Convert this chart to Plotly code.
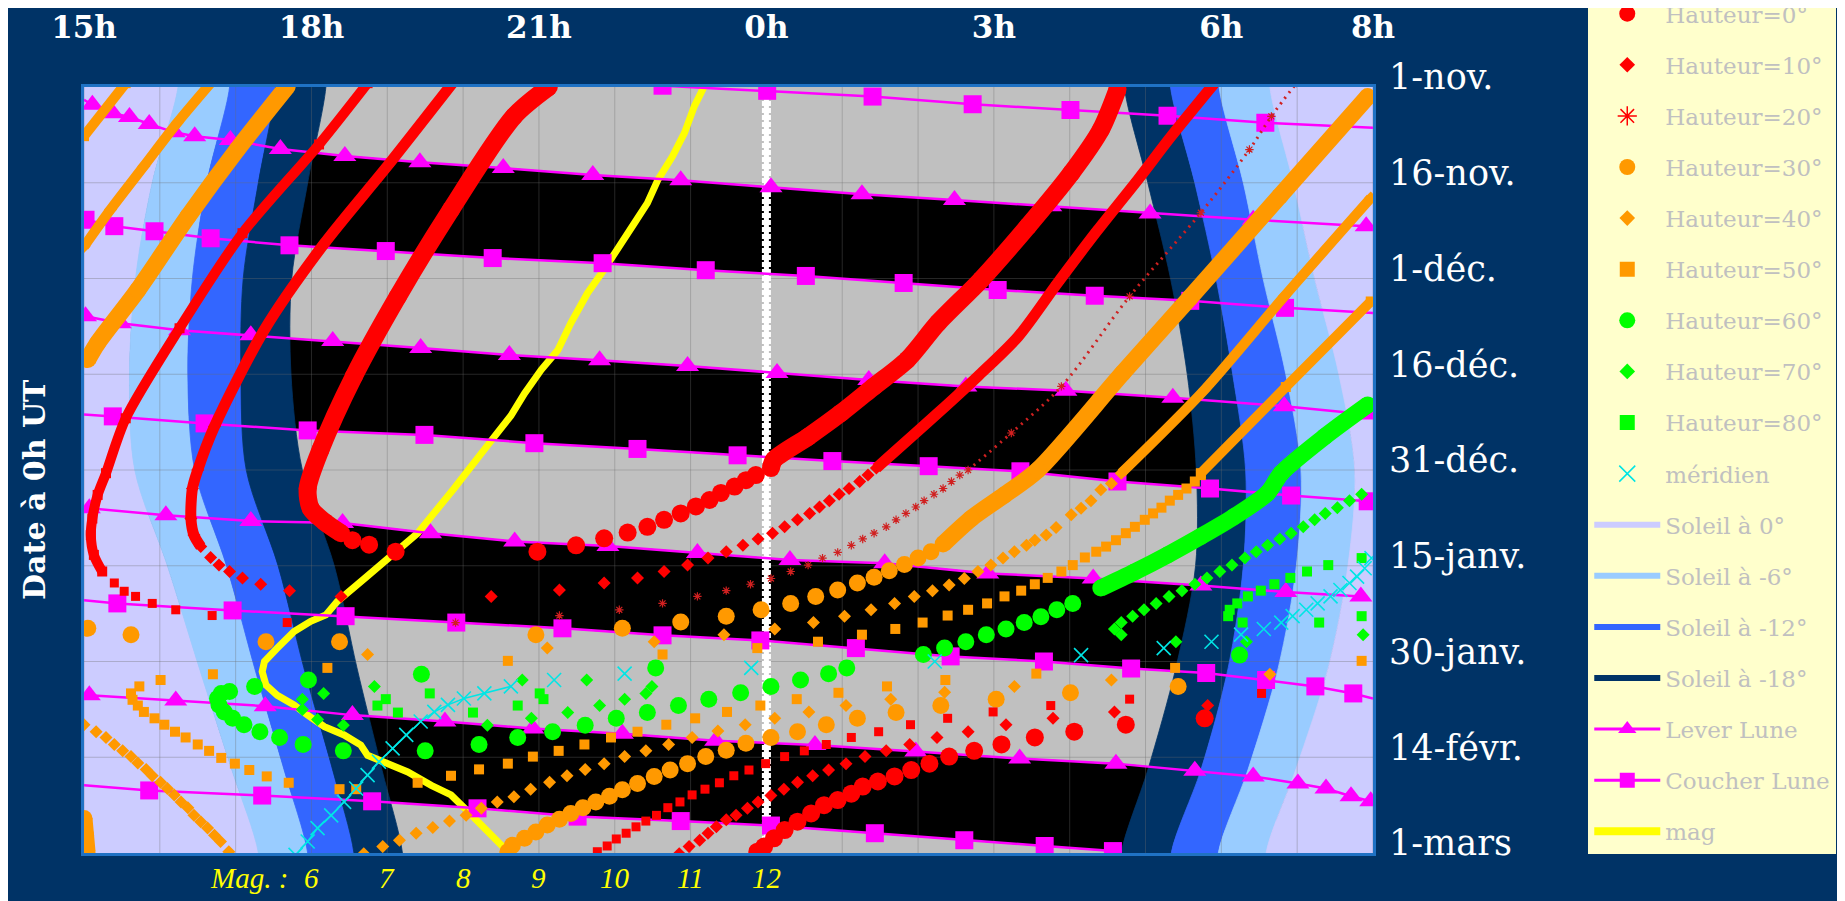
import plotly.graph_objects as go

# ---------------- axes / labels ----------------
HOUR_TICKS = [15, 18, 21, 24, 27, 30, 32]
HOUR_LABELS = ["15h", "18h", "21h", "0h", "3h", "6h", "8h"]
DATE_TICKS = [0, 15, 30, 45, 60, 75, 90, 105, 120]
DATE_LABELS = ["1-nov.", "16-nov.", "1-déc.", "16-déc.", "31-déc.",
               "15-janv.", "30-janv.", "14-févr.", "1-mars"]
MAG_TICKS = [6, 7, 8, 9, 10, 11, 12]
MAG_HOUR_OFFSET = 12          # magnitude m is drawn at hour 12 + m
MIDNIGHT = 24
X_RANGE = [15, 32]
Y_RANGE = [120, 0]
FILL_LEFT, FILL_RIGHT = 14.0, 33.0
FILL_TOP, FILL_BOTTOM = -6, 126

# ---------------- sun (hour at which the Sun is at 0, -6, -12, -18 deg) ----
SUN_DAYS = [0, 15, 30, 45, 60, 75, 91, 107, 120]
SUNSET_0 = [16.24, 15.90, 15.68, 15.60, 15.67, 16.10, 16.52, 16.95, 17.30]
SUNSET_6 = [16.92, 16.62, 16.43, 16.37, 16.46, 16.88, 17.25, 17.64, 17.95]
SUNSET_12 = [17.53, 17.30, 17.10, 17.07, 17.14, 17.56, 17.90, 18.28, 18.56]
SUNSET_18 = [18.19, 17.95, 17.74, 17.73, 17.88, 18.30, 18.60, 18.93, 19.20]
SUNRISE_18 = [28.72, 29.03, 29.33, 29.55, 29.67, 29.66, 29.40, 29.03, 28.68]
SUNRISE_12 = [29.33, 29.65, 29.93, 30.15, 30.32, 30.29, 30.09, 29.73, 29.34]
SUNRISE_6 = [29.97, 30.29, 30.55, 30.85, 31.05, 30.99, 30.75, 30.35, 29.96]
SUNRISE_0 = [30.64, 30.95, 31.23, 31.55, 31.76, 31.67, 31.41, 30.98, 30.59]

# ---------------- moon rise (Lever) / set (Coucher) ----------------
LEVER_1_H = [15.11, 15.38, 15.60, 15.86, 16.19, 16.46, 16.93, 17.59, 18.44, 19.43,
             20.53, 21.71, 22.87, 24.06, 25.26, 26.48, 27.75, 29.06, 30.42, 31.91]
LEVER_1_D = [2.8, 4.1, 4.7, 5.8, 7.1, 7.7, 8.3, 9.7, 10.8, 11.8,
             12.7, 13.8, 14.6, 15.7, 16.8, 17.7, 18.7, 19.8, 20.8, 21.8]
LEVER_2_H = [15.02, 15.48, 16.26, 17.20, 18.28, 19.44, 20.61, 21.80, 22.96, 24.14,
             25.35, 26.63, 27.95, 29.36, 30.83, 31.94]
LEVER_2_D = [35.9, 37.0, 38.1, 38.9, 39.8, 40.9, 42.0, 42.8, 43.7, 44.8,
             45.9, 46.9, 47.6, 48.7, 50.0, 51.3]
LEVER_3_H = [15.07, 16.08, 17.20, 18.41, 19.57, 20.68, 21.91, 23.09, 24.31, 25.56,
             26.92, 28.31, 29.73, 30.85, 31.84]
LEVER_3_D = [66.0, 67.1, 68.0, 68.3, 69.9, 71.2, 71.9, 73.0, 74.1, 74.6,
             76.2, 77.0, 78.1, 79.1, 79.8]
LEVER_4_H = [15.07, 16.21, 17.39, 18.54, 19.76, 20.92, 22.10, 23.33, 24.64, 25.97,
             27.34, 28.61, 29.65, 30.42, 31.01, 31.38, 31.71, 31.97]
LEVER_4_D = [95.3, 96.1, 97.0, 98.4, 99.4, 100.5, 101.3, 102.4, 103.1, 104.1,
             105.2, 106.0, 107.1, 108.0, 109.1, 109.9, 111.1, 111.9]
COUCHER_1_H = [22.63, 24.01, 25.40, 26.72, 28.01, 29.29, 30.58]
COUCHER_1_D = [-0.2, 0.6, 1.5, 2.7, 3.6, 4.5, 5.6]
COUCHER_2_H = [15.02, 15.40, 15.93, 16.67, 17.71, 18.98, 20.39, 21.84, 23.20, 24.52,
               25.81, 27.05, 28.33, 29.59, 30.84]
COUCHER_2_D = [20.8, 21.8, 22.6, 23.7, 24.8, 25.7, 26.8, 27.6, 28.7, 29.6,
               30.7, 31.8, 32.7, 33.5, 34.6]
COUCHER_3_H = [15.38, 16.59, 17.95, 19.49, 20.94, 22.30, 23.62, 24.87, 26.14, 27.35,
               28.63, 29.85, 30.92, 31.93]
COUCHER_3_D = [51.6, 52.7, 53.8, 54.5, 55.8, 56.7, 57.7, 58.6, 59.4, 60.2,
               61.8, 62.9, 64.0, 64.9]
COUCHER_4_H = [15.44, 16.96, 18.45, 19.91, 21.31, 22.63, 23.92, 25.18, 26.43, 27.66,
               28.81, 29.80, 30.59, 31.24, 31.74]
COUCHER_4_D = [80.9, 82.0, 82.9, 83.9, 84.8, 85.9, 86.7, 87.9, 89.2, 90.0,
               91.1, 91.8, 92.9, 93.9, 95.0]
COUCHER_5_H = [15.86, 17.35, 18.80, 20.19, 21.51, 22.87, 24.06, 25.43, 26.61, 27.67, 28.57]
COUCHER_5_D = [110.2, 111.0, 111.9, 113.0, 114.3, 115.0, 115.7, 116.9, 118.0, 118.9, 119.7]
# where the moon lines leave the frame (hour, day)
COUCHER_1_END = (32.0, 6.4)
COUCHER_2_END = (32.0, 35.4)
COUCHER_3_START = (15.0, 51.3)
COUCHER_4_START = (15.0, 80.4)
COUCHER_4_END = (32.0, 95.8)
COUCHER_5_START = (15.0, 109.4)
LEVER_1_START = (15.0, 2.0)

# ---------------- object: hour at which it is at a given altitude ----------
# Hauteur = 0 deg (red circles)
H0_BAND_A_H = [21.13, 20.67, 19.84, 19.14, 18.56, 18.12, 17.95, 17.99, 18.17, 18.39]
H0_BAND_A_D = [0.0, 4.6, 19.2, 32.8, 45.3, 56.8, 62.9, 66.0, 68.1, 69.9]
H0_BAND_B_H = [24.06, 24.10, 24.55, 24.98, 25.42, 25.86, 26.26, 26.83, 27.45, 28.02, 28.41, 28.63]
H0_BAND_B_D = [59.7, 58.4, 54.8, 51.1, 46.9, 42.7, 37.0, 30.2, 21.8, 13.5, 6.7, 0.4]
H0_PTS_H = [18.54, 18.76, 19.11, 20.98, 21.49, 21.86, 22.17, 22.43, 22.65, 22.87, 23.07,
            23.25, 23.40, 23.58, 23.73, 23.86,
            29.78, 28.74, 28.06, 27.54, 27.10, 26.74, 26.41, 26.15, 25.91, 25.69, 25.47,
            25.27, 25.12, 24.94, 24.76, 24.59, 24.41, 24.24, 24.10, 23.97, 23.88]
H0_PTS_D = [71.0, 71.7, 72.8, 72.8, 71.8, 70.7, 69.8, 68.9, 67.8, 66.8, 65.7,
            64.7, 63.6, 62.6, 61.6, 60.8,
            98.9, 99.9, 101.0, 101.9, 103.0, 104.0, 104.9, 106.0, 107.0, 108.0, 108.8,
            109.6, 110.7, 111.7, 112.5, 113.8, 115.1, 116.4, 117.7, 119.0, 119.8]
# Hauteur = 10 deg (red diamonds)
H10_BAND_A_H = [19.86, 19.00, 18.17, 17.38, 16.72, 16.50, 16.43, 16.41, 16.45, 16.54]
H10_BAND_A_D = [-0.6, 12.4, 24.5, 38.0, 53.2, 60.0, 62.9, 67.6, 70.2, 72.0]
H10_BAND_B_H = [25.45, 26.26, 26.79, 27.32, 27.84, 28.37, 28.90, 29.34, 29.91]
H10_BAND_B_D = [59.7, 51.1, 45.3, 39.1, 30.7, 22.4, 14.5, 7.7, -0.6]
H10_PTS_H = [16.67, 16.78, 16.92, 17.09, 17.33, 17.71, 18.39, 20.37, 21.27, 21.86, 22.30,
             22.65, 22.96, 23.23, 23.47, 23.69, 23.89, 24.08, 24.24, 24.41, 24.57, 24.70,
             24.83, 24.96, 25.09, 25.23, 25.34,
             22.85, 22.98, 23.12, 23.23, 23.34, 23.47, 23.60, 23.75, 23.89, 24.06, 24.23,
             24.41, 24.61, 24.82, 25.05, 25.30, 25.58, 25.89, 26.25, 26.66, 27.16, 27.78,
             28.59, 29.82]
H10_PTS_D = [73.7, 74.9, 75.9, 76.9, 77.9, 78.9, 79.8, 79.8, 78.8, 77.7, 76.9,
             75.9, 74.9, 73.8, 72.8, 71.8, 70.8, 69.9, 68.9, 67.8, 66.8, 65.8,
             64.8, 63.8, 62.9, 61.8, 60.8,
             120.1, 119.0, 118.0, 116.9, 115.9, 114.8, 114.1, 113.0, 112.0, 111.0, 110.0,
             108.9, 107.9, 107.0, 106.0, 104.9, 104.0, 103.0, 101.9, 101.0, 99.9, 98.9,
             97.9, 96.9]
# Hauteur = 20 deg : evening side (red squares) and morning side (asterisks)
H20_BAND_H = [18.74, 18.10, 17.09, 16.26, 15.55, 15.29, 15.18, 15.11, 15.09, 15.13, 15.24]
H20_BAND_D = [-0.6, 9.0, 22.9, 37.8, 51.9, 60.5, 63.9, 67.6, 70.2, 73.3, 75.9]
H20_SQ_H = [15.40, 15.53, 15.68, 15.90, 16.21, 16.69, 17.68,
            21.77, 21.90, 22.02, 22.15, 22.28, 22.41, 22.55, 22.70, 22.86, 23.02, 23.19,
            23.38, 23.57, 23.77, 23.99, 24.24, 24.50, 24.79, 25.12, 25.48, 25.90, 26.39,
            26.99, 27.75, 28.79, 30.53]
H20_SQ_D = [77.7, 79.0, 79.8, 80.9, 81.9, 82.8, 83.9,
            119.8, 118.9, 117.8, 116.9, 115.9, 115.0, 114.1, 112.9, 112.0, 110.9, 110.0,
            109.0, 107.9, 107.0, 106.0, 104.9, 104.0, 103.0, 101.9, 101.0, 99.9, 98.9,
            97.9, 96.9, 95.9, 95.0]
H20_STAR_H = [19.90, 21.27, 22.06, 22.63, 23.09, 23.47, 23.79, 24.06, 24.32, 24.55, 24.74,
              24.94, 25.12, 25.27, 25.42, 25.58, 25.71, 25.84, 25.97, 26.08, 26.21, 26.33,
              26.44, 26.55]
H20_STAR_D = [83.9, 82.8, 81.9, 80.9, 79.8, 78.9, 77.9, 77.0, 75.9, 74.9, 73.8,
              72.9, 71.8, 70.8, 69.9, 68.9, 67.8, 66.8, 65.8, 64.8, 63.8, 62.9,
              61.8, 60.8]
H20_STAR_TRAIL_H = [26.66, 27.23, 27.89, 28.79, 29.73, 30.37, 30.66, 30.99]
H20_STAR_TRAIL_D = [60.0, 54.2, 46.9, 32.8, 19.7, 9.8, 4.6, -0.6]
# Hauteur = 30 deg (orange circles)
H30_BAND_A_H = [17.68, 17.02, 16.37, 15.71, 15.18, 15.05]
H30_BAND_A_D = [-0.1, 9.8, 20.3, 31.8, 40.1, 42.7]
H30_BAND_B_H = [26.33, 26.70, 27.14, 27.58, 28.70, 29.58, 30.77, 31.93]
H30_BAND_B_D = [71.6, 67.6, 63.9, 60.0, 44.8, 33.1, 17.1, 1.5]
H30_BAND_C_H = [15.00, 15.02, 15.04]
H30_BAND_C_D = [114.6, 117.2, 119.8]
H30_PTS_H = [15.05, 15.62, 17.40, 18.37, 20.96, 22.10, 22.87, 23.47, 23.93, 24.32, 24.65,
             24.94, 25.20, 25.42, 25.62, 25.82, 26.00, 26.17,
             29.43, 28.01, 27.03, 26.30, 25.71, 25.20, 24.79, 24.41, 24.06, 23.73, 23.47,
             23.20, 22.96, 22.73, 22.52, 22.30, 22.10, 21.93, 21.75, 21.58, 21.42, 21.27,
             21.11, 20.96, 20.81, 20.65, 20.59]
H30_PTS_D = [84.8, 85.8, 86.9, 86.9, 85.8, 84.8, 83.8, 82.9, 81.9, 80.9, 79.8,
             78.8, 77.7, 76.8, 75.8, 74.8, 73.8, 72.8,
             93.9, 94.9, 95.9, 96.9, 98.0, 98.9, 99.9, 101.0, 101.9, 102.8, 103.9,
             104.9, 106.0, 107.0, 108.0, 109.1, 110.1, 111.1, 112.0, 112.9, 113.8, 114.7,
             115.6, 116.7, 117.7, 118.8, 119.8]
# Hauteur = 40 deg (orange diamonds)
H40_BAND_A_H = [16.67, 16.23, 15.79, 15.35, 15.00]
H40_BAND_A_D = [-0.6, 5.6, 12.4, 19.2, 25.0]
H40_BAND_B_H = [31.97, 30.83, 29.78, 28.68]
H40_BAND_B_D = [17.4, 32.8, 47.4, 60.5]
H40_PTS_H = [28.55, 28.41, 28.28, 28.15, 28.02, 27.82, 27.69, 27.54, 27.43, 27.27, 27.12,
             26.96, 26.79, 26.61, 26.41, 26.19, 25.95, 25.69, 25.38, 25.03, 24.62, 24.11,
             23.44, 22.52, 21.11, 18.74,
             15.00, 15.16, 15.29, 15.40, 15.51, 15.62, 15.71, 15.82, 15.90, 16.01, 16.10,
             16.19, 16.28, 16.37, 16.45, 16.54, 16.63, 16.72, 16.80, 16.91,
             30.64, 28.55, 27.27, 26.35, 25.64, 25.05, 24.56, 24.11, 23.72, 23.36, 23.02,
             22.71, 22.41, 22.13, 21.86, 21.61, 21.37, 21.14, 20.89, 20.67, 20.45, 20.24,
             20.04, 19.82, 19.60, 19.38, 19.16, 18.94, 18.69]
H40_PTS_D = [62.1, 63.1, 64.8, 66.0, 67.0, 69.0, 70.2, 71.0, 71.8, 72.8, 73.8,
             74.9, 75.9, 77.0, 78.0, 78.9, 79.8, 80.9, 81.9, 82.9, 83.9, 84.9,
             85.8, 86.9, 87.9, 88.9,
             99.9, 101.0, 101.9, 103.0, 104.0, 104.9, 105.9, 106.9, 107.9, 108.9, 109.9,
             110.9, 112.0, 112.9, 114.1, 115.1, 116.1, 117.2, 118.2, 119.8,
             92.0, 92.9, 93.9, 94.8, 95.9, 96.9, 97.9, 98.9, 99.9, 100.9, 101.9,
             103.0, 104.0, 104.9, 106.0, 106.9, 107.9, 108.9, 110.0, 111.2, 112.0, 113.0,
             114.1, 115.0, 116.0, 116.9, 118.0, 119.0, 120.1]
# Hauteur = 50 deg (orange squares)
H50_BAND_A_H = [15.55, 15.00]
H50_BAND_A_D = [-0.6, 7.7]
H50_BAND_B_H = [31.97, 30.85, 29.73]
H50_BAND_B_D = [33.6, 47.0, 60.5]
H50_PTS_H = [29.73, 29.65, 29.54, 29.43, 29.32, 29.21, 29.10, 28.99, 28.86, 28.74, 28.61,
             28.48, 28.35, 28.20, 28.04, 27.89, 27.71, 27.54, 27.36, 27.14, 26.91, 26.66,
             26.39, 26.06, 25.70, 25.26, 24.68, 23.88, 22.63, 20.59, 18.21, 16.70, 16.01,
             15.73,
             15.62, 15.64, 15.71, 15.79, 15.93, 16.06, 16.20, 16.34, 16.50, 16.65, 16.81,
             16.99, 17.18, 17.41, 17.70, 18.37, 18.59,
             19.40, 19.84, 20.21, 20.59, 20.92, 21.26, 21.60, 21.95, 22.30, 22.68, 23.06,
             23.48, 23.92, 24.40, 24.95, 25.59, 26.36, 27.56, 29.39, 31.85]
H50_PTS_D = [60.8, 61.8, 62.9, 63.9, 64.8, 65.9, 66.8, 67.8, 68.9, 69.9, 71.0,
             72.0, 72.8, 73.7, 74.9, 75.9, 76.9, 77.9, 78.9, 79.8, 80.9, 81.9,
             82.8, 83.9, 84.9, 85.8, 86.9, 87.9, 88.9, 89.9, 91.0, 92.0, 92.9,
             93.9,
             95.0, 96.0, 96.9, 97.9, 98.9, 99.9, 101.0, 101.9, 103.0, 104.0, 105.1,
             106.0, 107.0, 108.0, 109.0, 110.0, 110.0,
             109.0, 107.9, 106.9, 106.0, 104.9, 104.0, 103.0, 101.9, 101.0, 99.9, 98.9,
             97.9, 96.9, 95.9, 94.9, 93.9, 92.9, 91.9, 91.0, 89.9]
# Hauteur = 60 deg (green circles)
H60_BAND_H = [31.93, 31.36, 30.79, 30.61, 30.17, 29.73, 29.29, 28.85, 28.41]
H60_BAND_D = [49.8, 54.8, 60.5, 63.6, 67.3, 70.4, 73.3, 76.0, 78.5]
H60_PTS_H = [28.04, 27.83, 27.62, 27.40, 27.16, 26.90, 26.63, 26.35, 26.07, 25.06, 24.82,
             24.45, 24.06, 23.66, 23.24, 22.84, 22.43, 22.02, 21.61, 21.18, 20.72, 20.21,
             19.50, 18.42, 17.89, 17.58, 17.32, 17.11, 16.96, 16.85, 16.78, 16.76, 16.81,
             16.92, 17.25, 17.96, 19.45, 22.54, 30.24]
H60_PTS_D = [80.9, 81.9, 83.0, 83.9, 84.9, 85.8, 86.9, 87.9, 88.9, 91.0, 91.9,
             92.9, 93.9, 94.9, 95.9, 96.9, 98.0, 98.9, 100.0, 101.0, 101.9, 103.0,
             104.0, 104.0, 103.0, 101.9, 101.0, 99.9, 98.9, 97.9, 96.8, 95.8, 95.0,
             94.7, 93.9, 92.9, 92.0, 91.0, 89.0]
# Hauteur = 70 deg (green diamonds)
H70_PTS_H = [31.85, 31.69, 31.53, 31.37, 31.23, 31.08, 30.92, 30.77, 30.61, 30.46, 30.31,
             30.14, 29.98, 29.81, 29.65, 29.48, 29.31, 29.14, 28.98, 28.83, 28.68, 28.59,
             28.68, 29.40, 30.33, 31.87,
             18.83, 18.16, 17.88, 17.88, 18.08, 18.42, 20.32, 20.90, 21.38, 21.80, 22.13,
             22.41, 22.49, 20.78, 21.63]
H70_PTS_D = [63.8, 64.8, 65.9, 66.8, 67.8, 68.9, 69.9, 70.8, 71.8, 72.8, 73.8,
             74.9, 75.9, 76.9, 77.9, 78.9, 79.8, 80.9, 81.9, 82.9, 83.9, 84.9,
             85.8, 86.9, 86.9, 85.8,
             93.9, 95.0, 95.9, 97.5, 99.1, 100.0, 100.0, 98.9, 98.0, 96.9, 95.9,
             95.0, 93.9, 92.9, 92.9]
# Hauteur = 80 deg (green squares)
H80_PTS_H = [19.56, 18.98, 18.87, 19.14, 20.72, 21.01, 21.06, 20.13,
             31.85, 31.41, 31.13, 30.91, 30.70, 30.52, 30.35, 30.21, 30.11, 30.09, 30.28,
             31.29, 31.85]
H80_PTS_D = [95.0, 95.9, 96.9, 98.0, 96.9, 95.0, 95.9, 98.0,
             73.8, 74.9, 75.9, 76.9, 77.9, 78.9, 79.8, 80.9, 81.9, 82.9, 83.9,
             83.9, 82.9]
# meridian transit (cyan crosses)
MERID_H = [17.79, 17.95, 18.08, 18.26, 18.43, 18.59, 18.74, 18.89, 19.07, 19.25, 19.44,
           19.62, 19.80, 20.01, 20.28, 20.63, 21.20, 22.13, 23.80, 26.22, 28.15, 29.24,
           29.87, 30.26, 30.56, 30.79, 30.94, 31.12, 31.27, 31.44, 31.57, 31.69, 31.79,
           31.89, 31.98]
MERID_D = [120.3, 118.2, 116.1, 114.1, 112.0, 109.9, 107.8, 105.7, 103.6, 101.5, 99.4,
           97.9, 96.8, 95.8, 95.0, 93.9, 92.9, 91.9, 91.0, 90.0, 89.0, 87.9,
           86.9, 85.8, 84.9, 83.9, 82.9, 81.9, 80.9, 79.8, 78.8, 77.7, 76.7,
           75.4, 73.8]
# magnitude of the object (drawn on the "Mag." scale)
MAG_VALUES = [11.18, 11.05, 10.92, 10.76, 10.57, 10.43, 10.26, 10.04, 9.86, 9.64, 9.42,
              9.25, 9.03, 8.81, 8.63, 8.41, 8.15, 7.88, 7.40, 7.00, 6.70, 6.34, 6.19,
              5.99, 5.77, 5.55, 5.38, 5.35, 5.40, 5.55, 5.77, 5.95, 6.17, 6.43, 6.65,
              6.74, 6.96, 7.27, 7.58, 7.84, 8.02, 8.24, 8.46, 8.59]
MAG_DAYS = [-0.1, 3.0, 7.2, 10.9, 14.5, 18.2, 21.3, 25.5, 28.6, 32.3, 37.0,
            41.2, 44.3, 48.0, 51.5, 54.8, 59.0, 62.9, 69.9, 73.8, 77.0, 80.6, 82.7,
            83.7, 85.3, 87.9, 90.0, 91.6, 93.7, 95.3, 96.8, 98.4, 100.2, 101.5, 103.1,
            104.7, 105.7, 107.3, 109.4, 110.9, 113.0, 115.6, 118.2, 119.8]

# ---------------- colours ----------------
NAVY = "#003366"
LAVENDER = "#CCCCFF"
LIGHTBLUE = "#99CCFF"
BLUE = "#3366FF"
GREY = "#C0C0C0"
RED = "#FF0000"
ORANGE = "#FF9900"
GREEN = "#00FF00"
CYAN = "#00E5E5"
MAGENTA = "#FF00FF"
YELLOW = "#FFFF00"
STAR_RED = "#D02020"

fig = go.Figure()


def add(**kw):
    kw.setdefault("hoverinfo", "skip")
    kw.setdefault("showlegend", False)
    fig.add_trace(go.Scatter(**kw))


def polygon(xs_a, ys_a, xs_b, ys_b, color, smooth=False):
    line = dict(color=color, width=0.8)
    if smooth:
        line.update(shape="spline", smoothing=0.9)
    add(x=list(xs_a) + list(xs_b)[::-1], y=list(ys_a) + list(ys_b)[::-1],
        fill="toself", fillcolor=color, mode="lines", line=line)


def edge(h):
    """boundary extended past the top and bottom of the frame (fill only)"""
    return [h[0]] + list(h) + [h[-1]]


SUN_Y = [FILL_TOP] + SUN_DAYS + [FILL_BOTTOM]


def moon_line(h, d, start=None, end=None):
    xs, ys = list(h), list(d)
    if start:
        xs, ys = [start[0]] + xs, [start[1]] + ys
    if end:
        xs, ys = xs + [end[0]], ys + [end[1]]
    return xs, ys


lever = [moon_line(LEVER_1_H, LEVER_1_D, start=LEVER_1_START),
         moon_line(LEVER_2_H, LEVER_2_D),
         moon_line(LEVER_3_H, LEVER_3_D),
         moon_line(LEVER_4_H, LEVER_4_D)]
coucher = [moon_line(COUCHER_1_H, COUCHER_1_D, end=COUCHER_1_END),
           moon_line(COUCHER_2_H, COUCHER_2_D, end=COUCHER_2_END),
           moon_line(COUCHER_3_H, COUCHER_3_D, start=COUCHER_3_START),
           moon_line(COUCHER_4_H, COUCHER_4_D, start=COUCHER_4_START, end=COUCHER_4_END),
           moon_line(COUCHER_5_H, COUCHER_5_D, start=COUCHER_5_START)]

# night with moon below horizon -> black (between a moonrise line and the next moonset line)
for k in range(4):
    lx, ly = lever[k]
    cx, cy = coucher[k + 1]
    polygon(lx, ly, cx, cy, "#000000")

# daylight and twilight bands
n = len(SUN_Y)
polygon([FILL_LEFT] * n, SUN_Y, edge(SUNSET_0), SUN_Y, LAVENDER, True)
polygon(edge(SUNSET_0), SUN_Y, edge(SUNSET_6), SUN_Y, LIGHTBLUE, True)
polygon(edge(SUNSET_6), SUN_Y, edge(SUNSET_12), SUN_Y, BLUE, True)
polygon(edge(SUNSET_12), SUN_Y, edge(SUNSET_18), SUN_Y, NAVY, True)
polygon(edge(SUNRISE_18), SUN_Y, edge(SUNRISE_12), SUN_Y, NAVY, True)
polygon(edge(SUNRISE_12), SUN_Y, edge(SUNRISE_6), SUN_Y, BLUE, True)
polygon(edge(SUNRISE_6), SUN_Y, edge(SUNRISE_0), SUN_Y, LIGHTBLUE, True)
polygon(edge(SUNRISE_0), SUN_Y, [FILL_RIGHT] * n, SUN_Y, LAVENDER, True)

# faint grid (every hour, every 15 days)
gx, gy = [], []
for hr in range(X_RANGE[0], X_RANGE[1] + 1):
    gx += [hr, hr, None]
    gy += [Y_RANGE[1], Y_RANGE[0], None]
for dd in DATE_TICKS[1:-1]:
    gx += [X_RANGE[0], X_RANGE[1], None]
    gy += [dd, dd, None]
add(x=gx, y=gy, mode="lines", line=dict(color="rgba(110,110,110,0.35)", width=1))

# midnight line
add(x=[MIDNIGHT, MIDNIGHT], y=[Y_RANGE[1], Y_RANGE[0]], mode="lines",
    line=dict(color="white", width=5))
add(x=[MIDNIGHT, MIDNIGHT], y=[Y_RANGE[1], Y_RANGE[0]], mode="lines",
    line=dict(color="white", width=9, dash="5px,2px"))

# magnitude curve
add(x=[MAG_HOUR_OFFSET + m for m in MAG_VALUES], y=MAG_DAYS, mode="lines",
    line=dict(color=YELLOW, width=7))

# moon lines
for (x, y), (h, d) in zip(lever, [(LEVER_1_H, LEVER_1_D), (LEVER_2_H, LEVER_2_D),
                                  (LEVER_3_H, LEVER_3_D), (LEVER_4_H, LEVER_4_D)]):
    add(x=x, y=y, mode="lines", line=dict(color=MAGENTA, width=2.5))
    add(x=h, y=d, mode="markers", marker=dict(symbol="triangle-up", size=20, color=MAGENTA))
for (x, y), (h, d) in zip(coucher, [(COUCHER_1_H, COUCHER_1_D), (COUCHER_2_H, COUCHER_2_D),
                                    (COUCHER_3_H, COUCHER_3_D), (COUCHER_4_H, COUCHER_4_D),
                                    (COUCHER_5_H, COUCHER_5_D)]):
    add(x=x, y=y, mode="lines", line=dict(color=MAGENTA, width=2.5))
    add(x=h, y=d, mode="markers", marker=dict(symbol="square", size=18, color=MAGENTA))


def band(h, d, color, width, symbol, size):
    add(x=h, y=d, mode="lines", line=dict(color=color, width=width, shape="spline", smoothing=0.8))
    add(x=h, y=d, mode="markers", marker=dict(symbol=symbol, size=size, color=color))


def pts(h, d, color, symbol, size, lw=0):
    if lw:
        add(x=h, y=d, mode="markers",
            marker=dict(symbol=symbol, size=size, color=color, line=dict(color=color, width=lw)))
    else:
        add(x=h, y=d, mode="markers", marker=dict(symbol=symbol, size=size, color=color))


# 80, 70, 60 (green)
pts(H80_PTS_H, H80_PTS_D, GREEN, "square", 10)
pts(H70_PTS_H, H70_PTS_D, GREEN, "diamond", 10)
band(H60_BAND_H, H60_BAND_D, GREEN, 17, "circle", 17)
pts(H60_PTS_H, H60_PTS_D, GREEN, "circle", 17)
# 50, 40, 30 (orange)
band(H50_BAND_A_H, H50_BAND_A_D, ORANGE, 10, "square", 10)
band(H50_BAND_B_H, H50_BAND_B_D, ORANGE, 10, "square", 10)
pts(H50_PTS_H, H50_PTS_D, ORANGE, "square", 10)
band(H40_BAND_A_H, H40_BAND_A_D, ORANGE, 10, "diamond", 10)
band(H40_BAND_B_H, H40_BAND_B_D, ORANGE, 10, "diamond", 10)
pts(H40_PTS_H, H40_PTS_D, ORANGE, "diamond", 10)
band(H30_BAND_A_H, H30_BAND_A_D, ORANGE, 17, "circle", 17)
band(H30_BAND_B_H, H30_BAND_B_D, ORANGE, 17, "circle", 17)
band(H30_BAND_C_H, H30_BAND_C_D, ORANGE, 17, "circle", 17)
pts(H30_PTS_H, H30_PTS_D, ORANGE, "circle", 17)
# 20, 10, 0 (red)
band(H20_BAND_H, H20_BAND_D, RED, 10, "square", 10)
pts(H20_SQ_H, H20_SQ_D, RED, "square", 9)
add(x=H20_STAR_TRAIL_H, y=H20_STAR_TRAIL_D, mode="lines",
    line=dict(color=STAR_RED, width=3, dash="2px,5px", shape="spline"))
pts(H20_STAR_TRAIL_H, H20_STAR_TRAIL_D, STAR_RED, "asterisk-open", 7, lw=1.2)
pts(H20_STAR_H, H20_STAR_D, STAR_RED, "asterisk-open", 7, lw=1.2)
band(H10_BAND_A_H, H10_BAND_A_D, RED, 11, "diamond", 10)
band(H10_BAND_B_H, H10_BAND_B_D, RED, 11, "diamond", 10)
pts(H10_PTS_H, H10_PTS_D, RED, "diamond", 10)
band(H0_BAND_A_H, H0_BAND_A_D, RED, 18, "circle", 18)
band(H0_BAND_B_H, H0_BAND_B_D, RED, 18, "circle", 18)
pts(H0_PTS_H, H0_PTS_D, RED, "circle", 18)
# meridian
add(x=MERID_H[:16], y=MERID_D[:16], mode="lines", line=dict(color=CYAN, width=1.5))
pts(MERID_H, MERID_D, CYAN, "x-thin-open", 14, lw=1.6)

# ---------------- legend entries ----------------
LEGEND_ITEMS = [
    ("Hauteur=0°", dict(mode="markers", marker=dict(symbol="circle", size=16, color=RED))),
    ("Hauteur=10°", dict(mode="markers", marker=dict(symbol="diamond", size=12, color=RED))),
    ("Hauteur=20°", dict(mode="markers", marker=dict(symbol="asterisk-open", size=16,
                                                     color=RED, line=dict(color=RED, width=1.5)))),
    ("Hauteur=30°", dict(mode="markers", marker=dict(symbol="circle", size=16, color=ORANGE))),
    ("Hauteur=40°", dict(mode="markers", marker=dict(symbol="diamond", size=12, color=ORANGE))),
    ("Hauteur=50°", dict(mode="markers", marker=dict(symbol="square", size=15, color=ORANGE))),
    ("Hauteur=60°", dict(mode="markers", marker=dict(symbol="circle", size=16, color=GREEN))),
    ("Hauteur=70°", dict(mode="markers", marker=dict(symbol="diamond", size=12, color=GREEN))),
    ("Hauteur=80°", dict(mode="markers", marker=dict(symbol="square", size=15, color=GREEN))),
    ("méridien", dict(mode="markers", marker=dict(symbol="x-thin-open", size=16, color=CYAN,
                                                  line=dict(color=CYAN, width=1.5)))),
    ("Soleil à 0°", dict(mode="lines", line=dict(color=LAVENDER, width=6))),
    ("Soleil à -6°", dict(mode="lines", line=dict(color=LIGHTBLUE, width=6))),
    ("Soleil à -12°", dict(mode="lines", line=dict(color=BLUE, width=6))),
    ("Soleil à -18°", dict(mode="lines", line=dict(color=NAVY, width=6))),
    ("Lever Lune", dict(mode="lines+markers", line=dict(color=MAGENTA, width=3),
                        marker=dict(symbol="triangle-up", size=16, color=MAGENTA))),
    ("Coucher Lune", dict(mode="lines+markers", line=dict(color=MAGENTA, width=3),
                          marker=dict(symbol="square", size=15, color=MAGENTA))),
    ("mag", dict(mode="lines", line=dict(color=YELLOW, width=8))),
]
for i, (name, style) in enumerate(LEGEND_ITEMS):
    fig.add_trace(go.Scatter(x=[None], y=[None], name=name, legendgroup="g%d" % i,
                             showlegend=True, hoverinfo="skip", **style))

# ---------------- annotations ----------------
annotations = [dict(text="Date à 0h UT", xref="paper", yref="paper", x=-0.038, y=0.474,
                    xanchor="center", yanchor="middle",
                    textangle=-90, showarrow=False,
                    font=dict(family="DejaVu Serif", size=30, color="white", weight="bold"))]
annotations.append(dict(text="<i>Mag. :</i>", xref="x", yref="paper", x=17.72, y=-0.032,
                        xanchor="right", yanchor="middle", showarrow=False,
                        font=dict(family="Liberation Serif", size=29, color=YELLOW)))
for m in MAG_TICKS:
    annotations.append(dict(text="<i>%d</i>" % m, xref="x", yref="paper",
                            x=MAG_HOUR_OFFSET + m, y=-0.032, xanchor="center",
                            yanchor="middle", showarrow=False,
                            font=dict(family="Liberation Serif", size=29, color=YELLOW)))

fig.update_layout(
    width=1845, height=901,
    margin=dict(l=76, r=480, t=79, b=56, autoexpand=False),
    paper_bgcolor=NAVY, plot_bgcolor=GREY,
    showlegend=True,
    legend=dict(xref="paper", yref="paper", x=1.167, y=1.125,
                xanchor="left", yanchor="top", bgcolor="#FFFFCC",
                bordercolor="#FFFFCC", borderwidth=1, traceorder="grouped",
                tracegroupgap=18.2, itemwidth=66, maxheight=1200,
                font=dict(family="DejaVu Serif", size=23, color="#C0C0C0")),
    annotations=annotations,
    xaxis=dict(range=X_RANGE, side="top", tickvals=HOUR_TICKS, ticktext=HOUR_LABELS,
               ticks="outside", ticklen=34, tickcolor="rgba(0,0,0,0)",
               tickfont=dict(family="DejaVu Serif", size=31, color="white", weight="bold"),
               showgrid=False, zeroline=False, showline=True, mirror=True,
               linecolor="#1F72C4", linewidth=3),
    yaxis=dict(range=Y_RANGE, side="right", tickvals=DATE_TICKS, ticktext=DATE_LABELS,
               ticks="outside", ticklen=6, tickcolor="rgba(0,0,0,0)", ticklabelshift=10,
               tickfont=dict(family="DejaVu Serif", size=35, color="white"),
               showgrid=False, zeroline=False, showline=True, mirror=True,
               linecolor="#1F72C4", linewidth=3),
)

fig.write_html("out.html")
